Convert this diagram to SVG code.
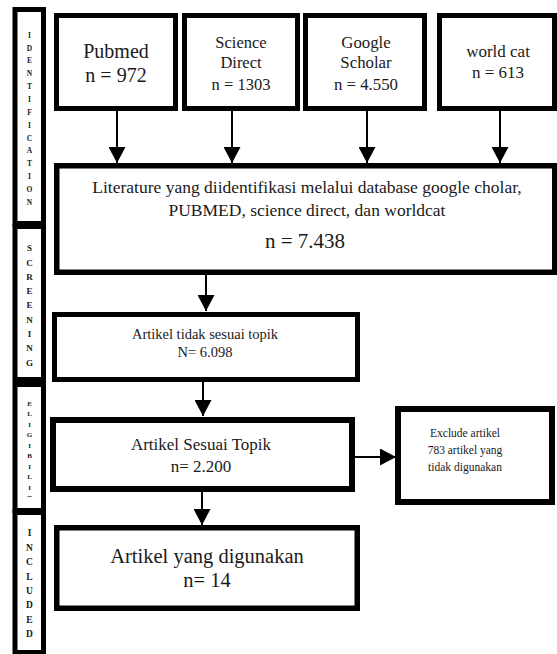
<svg xmlns="http://www.w3.org/2000/svg" width="557" height="654" viewBox="0 0 557 654">
<style>
.box{fill:#fff;stroke:#000}
.t{font-family:"Liberation Serif","Times New Roman",serif;fill:#1a1a1a;text-anchor:middle}
.lab{font-family:"Liberation Serif","Times New Roman",serif;font-weight:bold;fill:#1a1a1a;text-anchor:middle}
.c{stroke:#000;stroke-width:2;fill:none;marker-end:url(#ah)}
</style>
<defs>
<marker id="ah" markerUnits="userSpaceOnUse" markerWidth="16" markerHeight="17" refX="16" refY="8.5" orient="auto"><path d="M0,0 L16,8.5 L0,17 z" fill="#000"/></marker>
<clipPath id="eligclip"><rect x="17" y="387" width="25" height="110"/></clipPath>
</defs>
<rect x="0" y="0" width="557" height="654" fill="#fff"/>

<g id="stage-identification">
<rect class="box" x="15" y="9.5" width="28.5" height="214" stroke-width="5"/>
<text class="lab" font-size="7.5"><tspan x="29.5" y="37.7">I</tspan><tspan x="29.5" y="50.6">D</tspan><tspan x="29.5" y="63.4">E</tspan><tspan x="29.5" y="76.3">N</tspan><tspan x="29.5" y="89.1">T</tspan><tspan x="29.5" y="102">I</tspan><tspan x="29.5" y="114.8">F</tspan><tspan x="29.5" y="127.7">I</tspan><tspan x="29.5" y="140.5">C</tspan><tspan x="29.5" y="153.4">A</tspan><tspan x="29.5" y="166.2">T</tspan><tspan x="29.5" y="179.1">I</tspan><tspan x="29.5" y="191.9">O</tspan><tspan x="29.5" y="204.8">N</tspan></text>
</g>
<g id="stage-screening">
<rect class="box" x="15" y="226.5" width="28.5" height="153" stroke-width="5"/>
<text class="lab" font-size="9"><tspan x="29.5" y="251.2">S</tspan><tspan x="29.5" y="265.5">C</tspan><tspan x="29.5" y="279.8">R</tspan><tspan x="29.5" y="294.1">E</tspan><tspan x="29.5" y="308.4">E</tspan><tspan x="29.5" y="322.7">N</tspan><tspan x="29.5" y="337">I</tspan><tspan x="29.5" y="351.3">N</tspan><tspan x="29.5" y="365.6">G</tspan></text>
</g>
<g id="stage-eligibility">
<rect class="box" x="15" y="384.5" width="28.5" height="126" stroke-width="5"/>
<text class="lab" font-size="7" clip-path="url(#eligclip)"><tspan x="29.5" y="405.5">E</tspan><tspan x="29.5" y="416">L</tspan><tspan x="29.5" y="426.5">I</tspan><tspan x="29.5" y="437">G</tspan><tspan x="29.5" y="447.5">I</tspan><tspan x="29.5" y="458">B</tspan><tspan x="29.5" y="468.5">I</tspan><tspan x="29.5" y="479">L</tspan><tspan x="29.5" y="489.5">I</tspan><tspan x="29.5" y="500">T</tspan></text>
</g>
<g id="stage-included">
<rect class="box" x="15" y="512.5" width="28.5" height="140" stroke-width="5"/>
<text class="lab" font-size="9.5"><tspan x="29.5" y="536.4">I</tspan><tspan x="29.5" y="550.8">N</tspan><tspan x="29.5" y="565.2">C</tspan><tspan x="29.5" y="579.6">L</tspan><tspan x="29.5" y="594">U</tspan><tspan x="29.5" y="608.4">D</tspan><tspan x="29.5" y="622.8">E</tspan><tspan x="29.5" y="637.2">D</tspan></text>
</g>

<g id="connectors">
<line class="c" x1="117" y1="111" x2="117" y2="163"/>
<line class="c" x1="232" y1="111" x2="232" y2="163"/>
<line class="c" x1="367" y1="111" x2="367" y2="163"/>
<line class="c" x1="500" y1="111" x2="500" y2="163"/>
<line class="c" x1="206" y1="275" x2="206" y2="311"/>
<line class="c" x1="203" y1="381" x2="203" y2="416"/>
<line class="c" x1="202" y1="492" x2="202" y2="525"/>
<line class="c" x1="355" y1="457" x2="396" y2="457"/>
</g>

<g id="pubmed">
<rect class="box" x="56.5" y="15.5" width="119" height="93" stroke-width="5"/>
<text class="t" font-size="20"><tspan x="116" y="58">Pubmed</tspan><tspan x="116" y="82">n = 972</tspan></text>
</g>
<g id="science-direct">
<rect class="box" x="184.5" y="15.5" width="113" height="93" stroke-width="5"/>
<text class="t" font-size="16.5"><tspan x="241" y="48">Science</tspan><tspan x="241" y="68">Direct</tspan><tspan x="241" y="90">n = 1303</tspan></text>
</g>
<g id="google-scholar">
<rect class="box" x="305.5" y="15.5" width="119" height="93" stroke-width="5"/>
<text class="t" font-size="16.8"><tspan x="366" y="48">Google</tspan><tspan x="366" y="68">Scholar</tspan><tspan x="366" y="90">n = 4.550</tspan></text>
</g>
<g id="world-cat">
<rect class="box" x="439.5" y="15.5" width="115" height="93" stroke-width="5"/>
<text class="t" font-size="17"><tspan x="498" y="57">world cat</tspan><tspan x="498" y="78">n = 613</tspan></text>
</g>
<g id="literature">
<rect class="box" x="56.75" y="165.75" width="498" height="106.5" stroke-width="5.5"/>
<text class="t" font-size="17.5"><tspan x="307" y="193">Literature yang diidentifikasi melalui database google cholar,</tspan><tspan x="307" y="216">PUBMED, science direct, dan worldcat</tspan></text>
<text class="t" font-size="21" x="305" y="248">n = 7.438</text>
</g>
<g id="tidak-sesuai">
<rect class="box" x="54.5" y="314.5" width="303" height="65" stroke-width="5"/>
<text class="t" font-size="14.5"><tspan x="205" y="339">Artikel tidak sesuai topik</tspan><tspan x="205" y="357">N= 6.098</tspan></text>
</g>
<g id="sesuai-topik">
<rect class="box" x="53" y="420" width="299" height="69" stroke-width="6"/>
<text class="t" font-size="17"><tspan x="201" y="450">Artikel Sesuai Topik</tspan><tspan x="201" y="472">n= 2.200</tspan></text>
</g>
<g id="exclude">
<rect class="box" x="398" y="409" width="154" height="93" stroke-width="6"/>
<text class="t" font-size="11.5"><tspan x="465" y="437">Exclude artikel</tspan><tspan x="465" y="454">783 artikel yang</tspan><tspan x="465" y="471">tidak digunakan</tspan></text>
</g>
<g id="digunakan">
<rect class="box" x="56.75" y="527.75" width="300.5" height="80.5" stroke-width="5.5"/>
<text class="t" font-size="20.5"><tspan x="207" y="563">Artikel yang digunakan</tspan><tspan x="207" y="587">n= 14</tspan></text>
</g>
</svg>
